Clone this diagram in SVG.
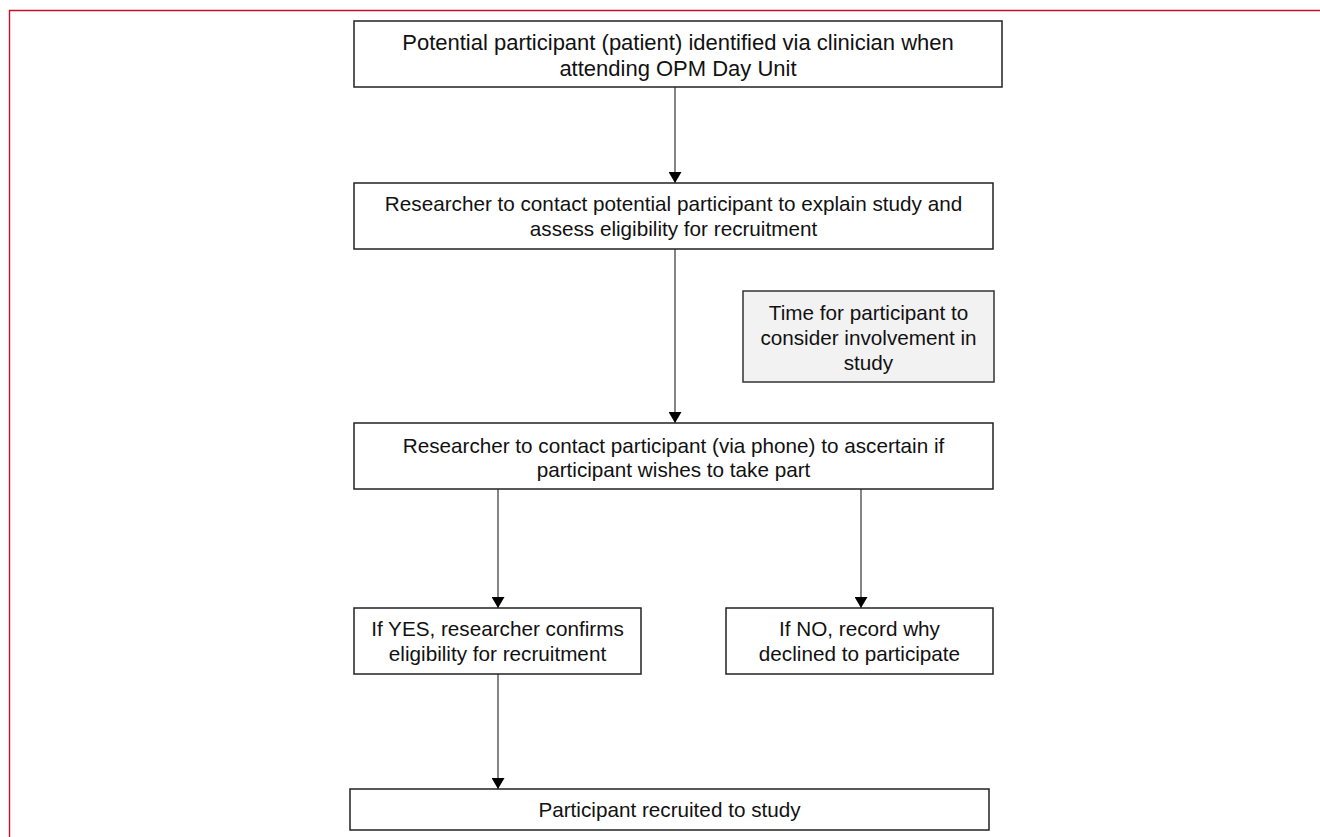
<svg xmlns="http://www.w3.org/2000/svg" width="1320" height="837" viewBox="0 0 1320 837">
<style>
.box{fill:#ffffff;stroke:#222222;stroke-width:1.5}
.gbox{fill:#f2f2f2;stroke:#333333;stroke-width:1.5}
text{font-family:"Liberation Sans",Arial,sans-serif;font-size:20.7px;fill:#111111;text-anchor:middle}
.big{font-size:22px}
.conn{stroke:#444444;stroke-width:1.3;fill:none;marker-end:url(#ah)}
</style>
<defs>
<marker id="ah" markerUnits="userSpaceOnUse" markerWidth="12" markerHeight="13" refX="11" refY="6.5" orient="auto" viewBox="0 0 12 13">
<path d="M0,0 L11,6.5 L0,13 Z" fill="#000000"/>
</marker>
</defs>
<rect width="1320" height="837" fill="#ffffff"/>
<path d="M9.5,837 V10.5 H1320" fill="none" stroke="#c8102e" stroke-width="1.4"/>
<g id="connectors">
<line class="conn" x1="675" y1="87" x2="675" y2="183"/>
<line class="conn" x1="675" y1="249" x2="675" y2="423"/>
<line class="conn" x1="498" y1="489" x2="498" y2="608"/>
<line class="conn" x1="861" y1="489" x2="861" y2="608"/>
<line class="conn" x1="498" y1="674" x2="498" y2="789"/>
</g>
<g id="n1">
<rect class="box" x="354" y="21" width="648" height="66"/>
<text class="big" x="678" y="50">Potential participant (patient) identified via clinician when</text>
<text class="big" x="678" y="76">attending OPM Day Unit</text>
</g>
<g id="n2">
<rect class="box" x="354" y="183" width="639" height="66"/>
<text x="673.5" y="211">Researcher to contact potential participant to explain study and</text>
<text x="673.5" y="236">assess eligibility for recruitment</text>
</g>
<g id="n3">
<rect class="gbox" x="743" y="291" width="251" height="91"/>
<text x="868.5" y="320">Time for participant to</text>
<text x="868.5" y="345">consider involvement in</text>
<text x="868.5" y="370">study</text>
</g>
<g id="n4">
<rect class="box" x="354" y="423" width="639" height="66"/>
<text x="673.5" y="453">Researcher to contact participant (via phone) to ascertain if</text>
<text x="673.5" y="477">participant wishes to take part</text>
</g>
<g id="n5">
<rect class="box" x="354" y="608" width="287" height="66"/>
<text x="497.5" y="636">If YES, researcher confirms</text>
<text x="497.5" y="661">eligibility for recruitment</text>
</g>
<g id="n6">
<rect class="box" x="726" y="608" width="267" height="66"/>
<text x="859.5" y="636">If NO, record why</text>
<text x="859.5" y="661">declined to participate</text>
</g>
<g id="n7">
<rect class="box" x="350" y="789" width="639" height="41"/>
<text x="669.5" y="817">Participant recruited to study</text>
</g>
</svg>
